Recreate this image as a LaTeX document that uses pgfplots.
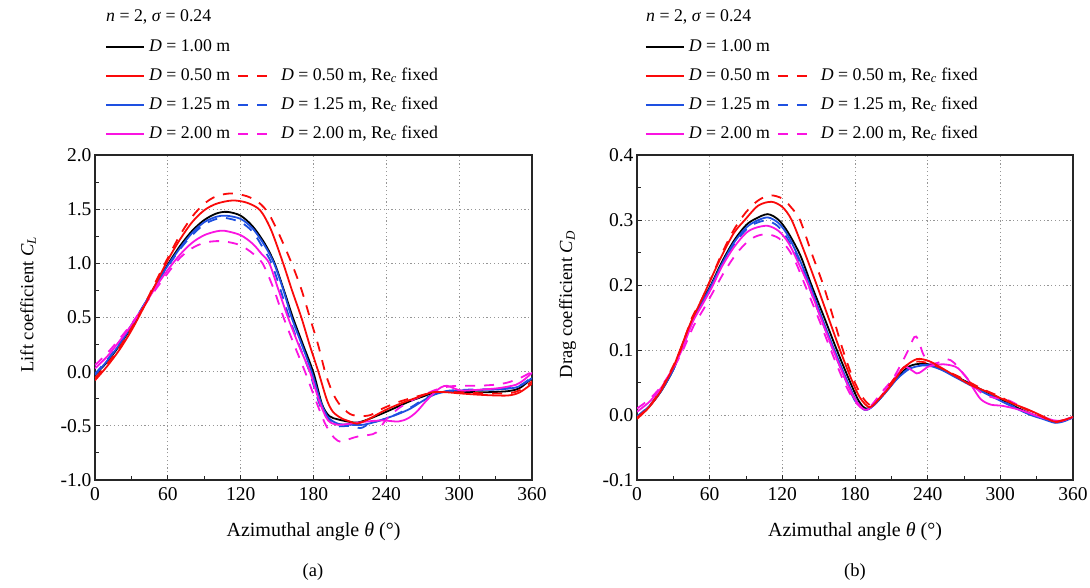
\documentclass[border=0pt]{standalone}
\usepackage{fontspec}
\setmainfont{Liberation Serif}
\usepackage{pgfplots}
\pgfplotsset{compat=1.18}

\definecolor{cred}{RGB}{250,10,10}
\definecolor{cblue}{RGB}{30,80,225}
\definecolor{cmag}{RGB}{250,20,225}
\definecolor{cgrid}{RGB}{150,150,150}

\newcommand{\fs}{\fontsize{17.8}{21}\selectfont}
\newcommand{\ft}{\fontsize{19.5}{23}\selectfont}
\newcommand{\fx}{\fontsize{20}{24}\selectfont}
\newcommand{\fl}{\fontsize{18.5}{22}\selectfont}

\pgfplotsset{
  panel/.style={
    scale only axis, height=325pt,
    xmin=0, xmax=360, xtick={0,60,...,360},
    minor x tick num=1, minor y tick num=1,
    tick align=inside, xtick pos=left, ytick pos=left,
    major tick length=5pt, minor tick length=4pt,
    grid=major,
    major grid style={cgrid, line width=0.9pt, dash pattern=on 1.2pt off 2.6pt},
    axis line style={line width=1.1pt, black!85},
    tick style={line width=1pt, black!85},
    every tick label/.append style={font=\ft},
    xticklabel style={yshift=-4pt, /pgf/number format/precision=0},
    yticklabel style={/pgf/number format/fixed zerofill, /pgf/number format/precision=1},
    /pgf/number format/assume math mode=true,
    /pgf/number format/fixed,
    every axis x label/.style={at={(axis description cs:0.5,-0.16)}, anchor=center, font=\fx},
    legend columns=2,
    legend cell align=left,
    legend image code/.code={\draw[##1] (0pt,0pt) -- (38pt,0pt);},
    legend style={draw=none, fill=none, inner sep=0pt, row sep=13pt, font=\fs,
      nodes={inner sep=0pt, text height=12pt, text depth=4pt},
      /tikz/every odd column/.style={column sep=4pt},
      /tikz/every even column/.style={column sep=7pt}},
  },
  solidc/.style={#1, line width=1.8pt, smooth},
  dashc/.style={#1, line width=1.8pt, smooth, dash pattern=on 10pt off 9pt},
}

\newcommand{\legendrows}{%
  \addlegendimage{solidc=black}
  \addlegendentry{\textit{D} = 1.00 m}
  \addlegendimage{empty legend}
  \addlegendentry{}
  \addlegendimage{solidc=cred}
  \addlegendentry{\textit{D} = 0.50 m}
  \addlegendimage{dashc=cred}
  \addlegendentry{\textit{D} = 0.50 m, Re\textsubscript{\textit{c}} fixed}
  \addlegendimage{solidc=cblue}
  \addlegendentry{\textit{D} = 1.25 m}
  \addlegendimage{dashc=cblue}
  \addlegendentry{\textit{D} = 1.25 m, Re\textsubscript{\textit{c}} fixed}
  \addlegendimage{solidc=cmag}
  \addlegendentry{\textit{D} = 2.00 m}
  \addlegendimage{dashc=cmag}
  \addlegendentry{\textit{D} = 2.00 m, Re\textsubscript{\textit{c}} fixed}
}

\begin{document}
\begin{tikzpicture}
\useasboundingbox (0,0) rectangle (1090pt,587pt);

% ---------------- (a) lift coefficient ----------------
\begin{axis}[panel, at={(95pt,107pt)}, anchor=south west, width=437pt,
  ymin=-1, ymax=2, ytick={-1,-0.5,...,2},
  xlabel={Azimuthal angle \textit{θ} (°)},
  ylabel={Lift coefficient \textit{C}\textsubscript{\textit{L}}},
  every axis y label/.style={at={(axis description cs:-0.153,0.54)}, rotate=90, anchor=center, font=\fl},
  legend style={at={(axis description cs:0.0229,1.357)}, anchor=north west},
]
\legendrows
% D = 1.00 m
\addplot[solidc=black, forget plot] coordinates {
(0,-0.03) (10,0.09) (20,0.24) (30,0.41) (40,0.60) (50,0.80) (60,0.99) (70,1.16)
(80,1.30) (90,1.40) (100,1.46) (109,1.475) (120,1.44) (130,1.34) (140,1.18)
(148,1.0) (156,0.74) (163,0.5) (171,0.26) (180,-0.01) (187,-0.30) (193,-0.41)
(200,-0.44) (208,-0.46) (216,-0.47) (225,-0.44) (240,-0.37) (250,-0.32)
(260,-0.27) (270,-0.23) (279,-0.195) (290,-0.185) (300,-0.185) (320,-0.19)
(340,-0.18) (350,-0.15) (360,-0.06)};
% D = 1.25 m
\addplot[solidc=cblue, forget plot] coordinates {
(0,-0.03) (10,0.10) (20,0.25) (30,0.42) (40,0.61) (50,0.80) (60,0.98) (70,1.14)
(80,1.28) (90,1.38) (100,1.43) (108,1.44) (120,1.41) (130,1.32) (140,1.16)
(147.5,1.0) (155,0.76) (162,0.5) (170,0.26) (178.5,0.0) (186,-0.28) (192,-0.42)
(200,-0.48) (210,-0.49) (221,-0.49) (232,-0.46) (240,-0.43) (250,-0.39)
(260,-0.34) (270,-0.27) (280,-0.21) (292,-0.18) (310,-0.17) (330,-0.165)
(345,-0.15) (352,-0.12) (360,-0.06)};
% D = 1.25 m, Re_c fixed
\addplot[dashc=cblue, forget plot] coordinates {
(0,-0.02) (10,0.11) (20,0.26) (30,0.43) (40,0.61) (50,0.80) (60,0.97) (70,1.13)
(80,1.26) (90,1.36) (100,1.41) (107,1.42) (120,1.38) (130,1.29) (138,1.15)
(145.5,1.0) (153,0.75) (160,0.5) (168,0.25) (176.7,0.0) (184,-0.27) (190,-0.41)
(199,-0.50) (210,-0.50) (219,-0.52) (226,-0.48) (235,-0.45) (245,-0.41)
(260,-0.33) (270,-0.26) (280,-0.205) (292,-0.175) (310,-0.165) (330,-0.16)
(345,-0.145) (352,-0.115) (360,-0.05)};
% D = 2.00 m
\addplot[solidc=cmag, forget plot] coordinates {
(0,0.03) (10,0.14) (20,0.28) (30,0.43) (40,0.60) (50,0.78) (60,0.94) (70,1.08)
(80,1.19) (90,1.26) (100,1.295) (107,1.30) (120,1.26) (130,1.18) (137,1.09)
(143.6,1.0) (151,0.76) (159,0.5) (168,0.24) (177,0.0) (185,-0.28) (192,-0.45)
(200,-0.49) (210,-0.48) (224,-0.46) (237,-0.45) (250,-0.46) (258,-0.43)
(265,-0.37) (272,-0.28) (279,-0.20) (285,-0.145) (290,-0.13) (296,-0.155)
(302,-0.175) (312,-0.17) (325,-0.16) (334,-0.15) (347,-0.12) (354,-0.07)
(360,-0.01)};
% D = 2.00 m, Re_c fixed
\addplot[dashc=cmag, forget plot] coordinates {
(0,0.06) (10,0.17) (20,0.30) (30,0.44) (40,0.60) (50,0.76) (60,0.91) (70,1.05)
(80,1.14) (90,1.19) (100,1.205) (108,1.20) (119,1.17) (129,1.10) (138,1.0)
(147,0.77) (155,0.51) (164,0.25) (173,0.0) (182,-0.27) (190,-0.49) (197,-0.61)
(203,-0.65) (210,-0.62) (216,-0.60) (225,-0.585) (232,-0.56) (240,-0.44)
(250,-0.34) (260,-0.27) (270,-0.22) (280,-0.17) (290,-0.14) (300,-0.13)
(315,-0.13) (330,-0.12) (340,-0.10) (350,-0.06) (360,0.0)};
% D = 0.50 m
\addplot[solidc=cred, forget plot] coordinates {
(0,-0.08) (10,0.05) (20,0.20) (30,0.38) (40,0.59) (50,0.81) (60,1.03) (70,1.22)
(80,1.38) (90,1.49) (100,1.55) (113,1.58) (125,1.56) (136,1.49) (145,1.31)
(155,1.0) (162,0.76) (170,0.50) (177,0.24) (184,0.0) (191,-0.26) (196,-0.37)
(203,-0.43) (210,-0.46) (216,-0.48) (225,-0.44) (240,-0.35) (255,-0.28)
(265,-0.24) (278,-0.19) (290,-0.19) (300,-0.20) (320,-0.215) (340,-0.22)
(350,-0.19) (360,-0.11)};
% D = 0.50 m, Re_c fixed
\addplot[dashc=cred, forget plot] coordinates {
(0,-0.06) (10,0.07) (20,0.22) (30,0.40) (40,0.60) (50,0.83) (60,1.05) (70,1.26)
(80,1.43) (90,1.55) (100,1.62) (112,1.645) (125,1.62) (135,1.56) (143,1.46)
(152,1.26) (162,1.0) (170,0.76) (177,0.50) (184,0.24) (190,-0.02) (196,-0.20)
(202,-0.31) (210,-0.39) (218,-0.41) (227,-0.40) (237,-0.34) (250,-0.28)
(265,-0.23) (280,-0.19) (300,-0.19) (320,-0.20) (340,-0.20) (350,-0.17)
(360,-0.09)};
\end{axis}

% ---------------- (b) drag coefficient ----------------
\begin{axis}[panel, at={(637pt,107pt)}, anchor=south west, width=436pt,
  ymin=-0.1, ymax=0.4, ytick={-0.1,0,...,0.4},
  xlabel={Azimuthal angle \textit{θ} (°)},
  ylabel={Drag coefficient \textit{C}\textsubscript{\textit{D}}},
  every axis y label/.style={at={(axis description cs:-0.159,0.54)}, rotate=90, anchor=center, font=\fl},
  legend style={at={(axis description cs:0.018,1.357)}, anchor=north west},
]
\legendrows
% D = 1.00 m
\addplot[solidc=black, forget plot] coordinates {
(0,-0.003) (10,0.013) (20,0.037) (30,0.07) (36,0.1) (45,0.143) (52,0.17) (61,0.2)
(70,0.235) (80,0.268) (90,0.292) (98,0.302) (108,0.309) (117,0.30) (125,0.28)
(135,0.245) (144,0.2) (155,0.148) (165,0.1) (175,0.055) (183,0.022) (189,0.01)
(196,0.016) (205,0.035) (215,0.058) (225,0.075) (235,0.079) (243,0.077)
(252,0.07) (260,0.062) (270,0.053) (280,0.043) (290,0.034) (300,0.025)
(312,0.013) (325,0.002) (335,-0.004) (345,-0.011) (352,-0.009) (360,-0.003)};
% D = 1.25 m
\addplot[solidc=cblue, forget plot] coordinates {
(0,-0.003) (10,0.013) (20,0.037) (30,0.07) (36,0.1) (45,0.143) (52,0.168) (61,0.198)
(70,0.232) (80,0.265) (90,0.288) (98,0.298) (108,0.304) (117,0.295) (125,0.275)
(134,0.24) (142.8,0.2) (153,0.148) (163,0.1) (173,0.055) (181,0.022) (188,0.008)
(195,0.014) (205,0.034) (215,0.056) (225,0.071) (235,0.076) (243,0.075)
(252,0.069) (260,0.061) (270,0.051) (280,0.041) (290,0.031) (300,0.022)
(312,0.011) (325,0.0) (335,-0.006) (345,-0.012) (352,-0.01) (360,-0.004)};
% D = 1.25 m, Re_c fixed
\addplot[dashc=cblue, forget plot] coordinates {
(0,-0.002) (10,0.014) (20,0.038) (30,0.07) (36,0.1) (45,0.142) (52,0.167) (61,0.197)
(70,0.23) (80,0.262) (90,0.285) (98,0.295) (107,0.299) (116,0.291) (124,0.272)
(133,0.238) (141.5,0.2) (152,0.148) (162,0.1) (172,0.055) (180,0.022) (188,0.008)
(195,0.014) (205,0.035) (215,0.057) (225,0.072) (235,0.077) (243,0.076)
(252,0.07) (260,0.062) (270,0.052) (280,0.042) (290,0.032) (300,0.023)
(312,0.012) (325,0.001) (335,-0.005) (345,-0.011) (352,-0.009) (360,-0.003)};
% D = 2.00 m
\addplot[solidc=cmag, forget plot] coordinates {
(0,0.005) (10,0.02) (20,0.042) (30,0.073) (37,0.1) (46,0.143) (54,0.17) (62,0.197)
(70,0.228) (80,0.258) (90,0.28) (98,0.288) (108,0.291) (117,0.283) (125,0.265)
(133,0.235) (141.5,0.2) (152,0.148) (162,0.1) (172,0.055) (180,0.024) (188,0.008)
(195,0.015) (205,0.037) (214,0.06) (221,0.074) (226,0.07) (231,0.064) (235,0.067)
(240,0.074) (246,0.077) (253,0.078) (260,0.076) (265,0.072) (272,0.058)
(278,0.04) (284,0.024) (292,0.016) (302,0.014) (316,0.008) (328,0.0)
(338,-0.006) (348,-0.009) (354,-0.007) (360,-0.003)};
% D = 2.00 m, Re_c fixed
\addplot[dashc=cmag, forget plot] coordinates {
(0,0.01) (10,0.024) (20,0.044) (30,0.072) (38,0.1) (47,0.138) (55,0.163) (63,0.19)
(72,0.22) (82,0.248) (92,0.268) (100,0.276) (108,0.278) (117,0.272) (125,0.255)
(131,0.235) (138.7,0.2) (150,0.148) (160,0.1) (170,0.055) (178,0.026) (186,0.01)
(193,0.014) (202,0.035) (211,0.055) (218,0.078) (224,0.1) (229,0.12) (232,0.117)
(236,0.095) (241,0.08) (248,0.08) (256,0.086) (262,0.08) (270,0.062) (278,0.045)
(286,0.032) (296,0.026) (305,0.024) (318,0.012) (330,0.002) (340,-0.006)
(348,-0.01) (354,-0.007) (360,-0.002)};
% D = 0.50 m
\addplot[solidc=cred, forget plot] coordinates {
(0,-0.006) (10,0.012) (20,0.038) (30,0.074) (35.5,0.1) (45,0.145) (52,0.172) (60,0.205)
(70,0.245) (80,0.28) (89,0.30) (100,0.322) (111,0.328) (120,0.32) (127.7,0.30)
(138,0.252) (148.4,0.2) (158,0.15) (167.6,0.1) (177,0.055) (184,0.027) (192,0.012)
(200,0.025) (209,0.044) (220,0.072) (231,0.086) (241,0.083) (250,0.074)
(261,0.062) (270,0.052) (278,0.044) (290,0.035) (300,0.026) (311,0.017)
(322,0.009) (334,-0.001) (344,-0.01) (352,-0.008) (360,-0.003)};
% D = 0.50 m, Re_c fixed
\addplot[dashc=cred, forget plot] coordinates {
(0,-0.004) (10,0.013) (20,0.04) (30,0.076) (36,0.1) (45,0.148) (53,0.176) (60,0.205)
(70,0.248) (80,0.285) (90,0.312) (100,0.33) (110,0.338) (120,0.333) (127,0.32)
(134.6,0.30) (144,0.25) (153.8,0.2) (162,0.15) (170,0.1) (178,0.058) (186,0.028)
(193,0.015) (200,0.025) (210,0.05) (220,0.073) (230,0.082) (240,0.08) (250,0.073)
(260,0.064) (270,0.055) (280,0.045) (290,0.036) (300,0.028) (310,0.018)
(322,0.008) (334,-0.002) (344,-0.011) (352,-0.008) (360,-0.003)};
\end{axis}

% parameter line above each legend and panel tags
\node[anchor=base west, font=\fs, inner sep=0pt] at (106pt,565pt) {\textit{n} = 2, \textit{σ} = 0.24};
\node[anchor=base west, font=\fs, inner sep=0pt] at (646pt,565pt) {\textit{n} = 2, \textit{σ} = 0.24};
\node[font=\fl] at (313pt,15pt) {(a)};
\node[font=\fl] at (855pt,15pt) {(b)};
\end{tikzpicture}
\end{document}
